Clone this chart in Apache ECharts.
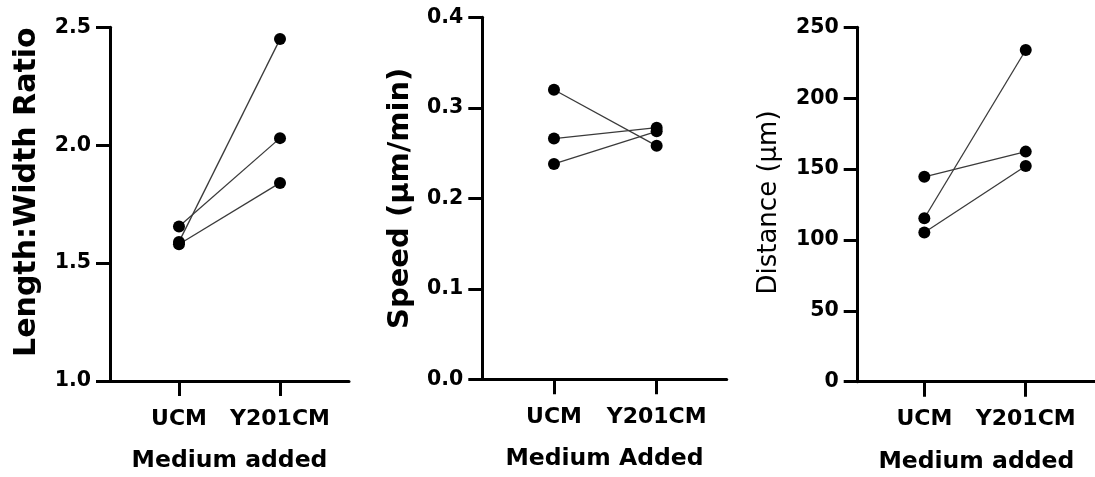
<!DOCTYPE html>
<html><head><meta charset="utf-8">
<script src="https://cdn.jsdelivr.net/npm/echarts@6/dist/echarts.min.js"></script>
<style>html,body{margin:0;padding:0;background:#fff}#c{width:1095px;height:477px}</style>
</head><body><div id="c"></div>
<script>
const categories = ['UCM', 'Y201CM'];
// Length:Width ratio (paired: UCM -> Y201CM)
const ratioUCM = [1.655, 1.59, 1.58];
const ratioY201CM = [2.03, 2.45, 1.84];
// Speed (um/min)
const speedUCM = [0.32, 0.266, 0.238];
const speedY201CM = [0.258, 0.278, 0.274];
// Distance (um)
const distUCM = [144.5, 115.3, 105.2];
const distY201CM = [162.3, 234, 152.2];
// y-axis tick ranges
const ratioTicks = [1.0, 1.5, 2.0, 2.5];
const speedTicks = [0.0, 0.1, 0.2, 0.3, 0.4];
const distTicks = [0, 50, 100, 150, 200, 250];

const FONT = 'DejaVu Sans';
const panels = [
  { ucm: ratioUCM, y201: ratioY201CM, ticks: ratioTicks, dec: 1,
    grid: { left: 110, top: 27.3, width: 239, height: 353.7 }, xmin: -0.683, xmax: 1.683,
    yName: 'Length:Width Ratio', nameSize: 30, nameWeight: 'bold', nameGap: 68, namePad: [0, 0, 0, 24],
    xName: 'Medium added' },
  { ucm: speedUCM, y201: speedY201CM, ticks: speedTicks, dec: 1,
    grid: { left: 482.3, top: 17.3, width: 244.4, height: 362 }, xmin: -0.698, xmax: 1.682,
    yName: 'Speed (\u03bcm/min)', nameSize: 29, nameWeight: 'bold', nameGap: 67, namePad: [0, 0, 0, 0],
    xName: 'Medium Added' },
  { ucm: distUCM, y201: distY201CM, ticks: distTicks, dec: 0,
    grid: { left: 857.7, top: 27.3, width: 237.3, height: 354.4 }, xmin: -0.657, xmax: 1.683,
    yName: 'Distance (\u03bcm)', nameSize: 26, nameWeight: 'normal', nameGap: 75, namePad: [0, 0, 0, 4],
    xName: 'Medium added' }
];

const grid = [], xAxis = [], yAxis = [], series = [];
panels.forEach((p, k) => {
  grid.push(Object.assign({ containLabel: false, outerBoundsMode: 'none' }, p.grid));
  xAxis.push({
    type: 'value', gridIndex: k, min: p.xmin, max: p.xmax,
    name: p.xName, nameLocation: 'middle', nameGap: 68,
    nameTextStyle: { fontFamily: FONT, fontWeight: 'bold', fontSize: 23.5, color: '#000' },
    axisLine: { show: true, onZero: false, lineStyle: { color: '#000', width: 3 } },
    axisTick: { show: true, length: 15, customValues: [0, 1], lineStyle: { color: '#000', width: 3 } },
    axisLabel: { show: true, customValues: [0, 1], margin: 27, fontFamily: FONT, fontWeight: 'bold', fontSize: 22, color: '#000',
      formatter: v => categories[Math.round(v)] },
    splitLine: { show: false }
  });
  const t = p.ticks;
  yAxis.push({
    type: 'value', gridIndex: k, min: t[0], max: t[t.length - 1], interval: t[1] - t[0],
    name: p.yName, nameLocation: 'middle', nameGap: p.nameGap, nameRotate: 90,
    nameTextStyle: { fontFamily: FONT, fontWeight: p.nameWeight, fontSize: p.nameSize, color: '#000', padding: p.namePad },
    axisLine: { show: true, onZero: false, lineStyle: { color: '#000', width: 3 } },
    axisTick: { show: true, length: 14, lineStyle: { color: '#000', width: 3 } },
    axisLabel: { margin: 19, fontFamily: FONT, fontWeight: 'bold', fontSize: 20.5, color: '#000',
      formatter: v => v.toFixed(p.dec) },
    splitLine: { show: false }
  });
  p.ucm.forEach((u, i) => {
    series.push({
      type: 'line', xAxisIndex: k, yAxisIndex: k,
      data: [[0, u], [1, p.y201[i]]],
      symbol: 'circle', symbolSize: 12, showSymbol: true,
      itemStyle: { color: '#000' },
      lineStyle: { color: '#3a3a3a', width: 1.3 },
      emphasis: { disabled: true }
    });
  });
});

const chart = echarts.init(document.getElementById('c'), null, { renderer: 'canvas' });
chart.setOption({ backgroundColor: '#fff', animation: false, grid, xAxis, yAxis, series });
</script>
</body></html>
